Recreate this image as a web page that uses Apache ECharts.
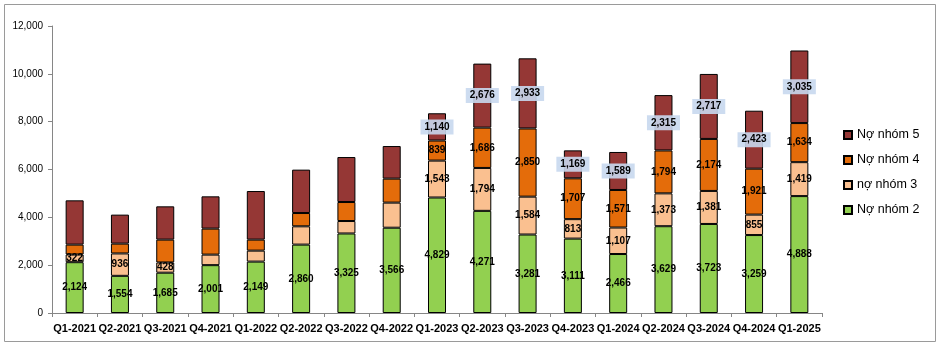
<!DOCTYPE html>
<html>
<head>
<meta charset="utf-8">
<script src="https://cdn.jsdelivr.net/npm/echarts@6/dist/echarts.min.js"></script>
<style>html,body{margin:0;padding:0;background:#fff}#c{width:939px;height:347px}</style>
</head>
<body>
<div id="c"></div>
<script>
const categories = ['Q1-2021','Q2-2021','Q3-2021','Q4-2021','Q1-2022','Q2-2022','Q3-2022','Q4-2022','Q1-2023','Q2-2023','Q3-2023','Q4-2023','Q1-2024','Q2-2024','Q3-2024','Q4-2024','Q1-2025'];
const nhom2 = [2124,1554,1685,2001,2149,2860,3325,3566,4829,4271,3281,3111,2466,3629,3723,3259,4888];
const nhom3 = [322,936,428,440,459,764,521,1049,1543,1794,1584,813,1107,1373,1381,855,1419];
const nhom4 = [413,411,955,1087,460,556,794,1003,839,1686,2850,1707,1571,1794,2174,1921,1634];
const nhom5 = [1852,1212,1392,1350,2032,1814,1881,1363,1140,2676,2933,1169,1589,2315,2717,2423,3035];
const showLabel2 = categories.map(() => true);
const showLabel3 = categories.map((c, i) => i <= 2 || i >= 8);
const showLabel4 = categories.map((c, i) => i >= 8);
const showLabel5 = categories.map((c, i) => i >= 8);
const yTicks = [0, 2000, 4000, 6000, 8000, 10000, 12000];

const FONT = 'Liberation Sans';
const fmt = p => Number(p.value).toLocaleString('en-US');
function mk(vals, mask) {
  return vals.map((v, i) => ({ value: v, label: { show: mask[i] } }));
}
const baseLabel = { position: 'inside', formatter: fmt, fontFamily: FONT, fontSize: 10, fontWeight: 'bold', color: '#000' };
function series(name, vals, mask, color, extraLabel) {
  return {
    name, type: 'bar', stack: 'total', barWidth: 18,
    itemStyle: { color, borderColor: '#000', borderWidth: 1 },
    label: Object.assign({}, baseLabel, extraLabel || {}),
    data: mk(vals, mask)
  };
}
const chart = echarts.init(document.getElementById('c'), null, { renderer: 'canvas' });
chart.setOption({
  animation: false,
  backgroundColor: '#fff',
  graphic: [{ type: 'rect', shape: { x: 4.5, y: 4.5, width: 931, height: 337 }, style: { fill: 'none', stroke: '#9a9a9a', lineWidth: 1 }, silent: true }],
  grid: { left: 52, right: 117, top: 26, bottom: 34 },
  legend: {
    orient: 'vertical', left: 843, top: 128, padding: 0, icon: 'rect', itemWidth: 8, itemHeight: 8, itemGap: 11,
    data: ['Nợ nhóm 5', 'Nợ nhóm 4', 'nợ nhóm 3', 'Nợ nhóm 2'],
    textStyle: { fontFamily: FONT, fontSize: 12.5, color: '#000', lineHeight: 14 }
  },
  xAxis: {
    type: 'category', data: categories,
    axisLine: { lineStyle: { color: '#868686' } },
    axisTick: { show: true, length: 4, lineStyle: { color: '#868686' } },
    axisLabel: { fontFamily: FONT, fontSize: 11, fontWeight: 'bold', color: '#000', margin: 10, interval: 0 }
  },
  yAxis: {
    type: 'value', min: yTicks[0], max: yTicks[yTicks.length - 1], interval: 2000,
    splitLine: { show: false },
    axisLine: { show: true, lineStyle: { color: '#868686' } },
    axisTick: { show: true, length: 4, lineStyle: { color: '#868686' } },
    axisLabel: { fontFamily: FONT, fontSize: 10, color: '#000', margin: 9, formatter: v => v.toLocaleString('en-US') }
  },
  series: [
    series('Nợ nhóm 2', nhom2, showLabel2, '#92D050'),
    series('nợ nhóm 3', nhom3, showLabel3, '#FAC090'),
    series('Nợ nhóm 4', nhom4, showLabel4, '#E46C0A'),
    series('Nợ nhóm 5', nhom5, showLabel5, '#953735', { backgroundColor: 'rgba(200,216,238,0.9)', padding: [3, 4, 2, 4] })
  ]
});
</script>
</body>
</html>
